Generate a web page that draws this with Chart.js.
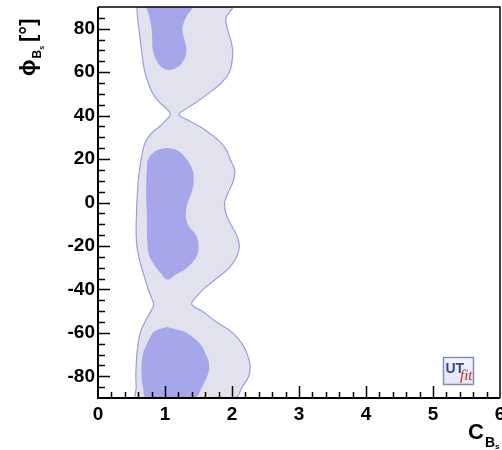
<!DOCTYPE html>
<html>
<head>
<meta charset="utf-8">
<script src="https://cdn.jsdelivr.net/npm/chart.js@4.4.1/dist/chart.umd.min.js"></script>
<style>
  html, body { margin: 0; padding: 0; background: #fff; }
  #wrap { width: 502px; height: 450px; }
</style>
</head>
<body>
<div id="wrap"><canvas id="c" width="502" height="450"></canvas></div>
<script>
// -------------------------------
// DATA
// -------------------------------
const xTicks = [0, 1, 2, 3, 4, 5, 6];
const yTicks = [-80, -60, -40, -20, 0, 20, 40, 60, 80];

// outer (light) region: phi levels and left/right C_Bs edges
const phiOuter = [90, 85, 80, 75, 70, 65, 60, 55, 50, 46, 43, 40.5, 38, 35, 32, 28, 24, 20, 15, 10, 5, 0,
  -5, -10, -15, -20, -25, -30, -35, -40, -44, -47, -50, -55, -60, -65, -70, -75, -80, -85, -90];
const outerLeft = [0.58, 0.59, 0.61, 0.63, 0.65, 0.67, 0.70, 0.75, 0.82, 0.92, 1.03, 1.08, 1.02, 0.92, 0.80, 0.71, 0.67, 0.645, 0.62, 0.60, 0.59, 0.58,
  0.575, 0.57, 0.57, 0.58, 0.61, 0.65, 0.70, 0.75, 0.80, 0.83, 0.79, 0.70, 0.63, 0.60, 0.58, 0.57, 0.565, 0.57, 0.58];
const outerRight = [1.99, 1.91, 1.93, 1.98, 2.01, 2.00, 1.96, 1.84, 1.64, 1.46, 1.31, 1.21, 1.34, 1.52, 1.66, 1.82, 1.92, 1.97, 2.04, 2.02, 1.95, 1.89,
  1.91, 1.98, 2.07, 2.11, 2.07, 1.96, 1.77, 1.57, 1.45, 1.40, 1.55, 1.77, 2.01, 2.15, 2.23, 2.27, 2.25, 2.15, 2.04];

// inner (dark) regions
const phiTop = [90, 85, 80, 75, 70, 65, 62, 61];
const topLeft = [0.72, 0.77, 0.80, 0.81, 0.82, 0.88, 0.96, 1.06];
const topRight = [1.39, 1.31, 1.26, 1.29, 1.32, 1.27, 1.17, 1.06];

const phiMid = [25.2, 24, 20, 15, 10, 5, 0, -5, -10, -15, -20, -25, -30, -33, -35.5];
const midLeft = [1.03, 0.88, 0.75, 0.73, 0.72, 0.72, 0.72, 0.73, 0.73, 0.73, 0.74, 0.77, 0.87, 0.95, 1.03];
const midRight = [1.03, 1.18, 1.32, 1.41, 1.43, 1.40, 1.34, 1.31, 1.34, 1.46, 1.50, 1.47, 1.33, 1.17, 1.03];

const phiBot = [-57.3, -58.5, -60, -65, -70, -75, -80, -85, -90];
const botLeft = [1.03, 0.90, 0.82, 0.73, 0.67, 0.65, 0.65, 0.67, 0.73];
const botRight = [1.03, 1.18, 1.32, 1.52, 1.61, 1.66, 1.63, 1.55, 1.44];

// -------------------------------
// HELPERS
// -------------------------------
// walk down the left edge, back up the right edge
function ring(phi, left, right) {
  const pts = [];
  for (let i = 0; i < phi.length; i++) pts.push({ x: left[i], y: phi[i] });
  for (let i = phi.length - 1; i >= 0; i--) {
    if (right[i] === left[i]) continue;
    pts.push({ x: right[i], y: phi[i] });
  }
  pts.push(pts[0]);
  return pts;
}

const FONT = '"Liberation Sans", Arial, Helvetica, sans-serif';
const innerColor = '#a6a6ea';

function region(data, fillColor, borderColor, order) {
  return {
    data: data,
    showLine: true,
    fill: 'shape',
    backgroundColor: fillColor,
    borderColor: borderColor,
    borderWidth: borderColor ? 1.2 : 0,
    pointRadius: 0,
    tension: 0.4,
    clip: 0,
    order: order,
  };
}

// -------------------------------
// FRAME, TICKS, TITLES, LOGO
// -------------------------------
const decor = {
  id: 'decor',
  afterDatasetsDraw(chart) {
    const ctx = chart.ctx;
    const a = chart.chartArea;
    const xs = chart.scales.x;
    const ys = chart.scales.y;

    ctx.save();
    ctx.strokeStyle = '#000';

    // inside ticks
    ctx.lineWidth = 1.5;
    ctx.beginPath();
    for (let v = -85; v <= 85; v += 5) {
      const py = Math.round(ys.getPixelForValue(v)) + 0.5;
      const len = v % 20 === 0 ? 12 : 7;
      ctx.moveTo(a.left, py);
      ctx.lineTo(a.left + len, py);
    }
    for (let i = 1; i < 30; i++) {
      const v = i / 5;
      const px = Math.round(xs.getPixelForValue(v)) + 0.5;
      const len = i % 5 === 0 ? 12 : 6;
      ctx.moveTo(px, a.bottom);
      ctx.lineTo(px, a.bottom - len);
    }
    ctx.stroke();

    // frame
    ctx.lineWidth = 1.5;
    ctx.beginPath();
    ctx.moveTo(a.left, a.top);
    ctx.lineTo(a.right, a.top);
    ctx.lineTo(a.right, a.bottom);
    ctx.stroke();
    ctx.lineWidth = 2;
    ctx.beginPath();
    ctx.moveTo(a.left, a.top);
    ctx.lineTo(a.left, a.bottom);
    ctx.lineTo(a.right, a.bottom);
    ctx.stroke();

    // y title
    ctx.fillStyle = '#000';
    ctx.textAlign = 'left';
    ctx.textBaseline = 'alphabetic';
    ctx.translate(35, 76);
    ctx.rotate(-Math.PI / 2);
    let x = 0;
    ctx.font = 'bold 22px ' + FONT;
    ctx.fillText('\u03d5', x, 0);
    x += ctx.measureText('\u03d5').width + 1;
    ctx.font = 'bold 12px ' + FONT;
    ctx.fillText('B', x, 6);
    x += ctx.measureText('B').width;
    ctx.font = 'bold 7px ' + FONT;
    ctx.fillText('s', x, 9);
    x += ctx.measureText('s').width + 4;
    ctx.font = 'bold 22px ' + FONT;
    ctx.fillText('[\u00b0]', x, 0);
    ctx.restore();

    // x title
    ctx.save();
    ctx.fillStyle = '#000';
    ctx.font = 'bold 22px ' + FONT;
    ctx.fillText('C', 468, 439);
    ctx.font = 'bold 14px ' + FONT;
    ctx.fillText('B', 485, 447);
    ctx.font = 'bold 8px ' + FONT;
    ctx.fillText('s', 495, 449);

    // UTfit logo
    const g = ctx.createLinearGradient(0, 357, 0, 384);
    g.addColorStop(0, '#f4f4fa');
    g.addColorStop(1, '#e6e6f2');
    ctx.fillStyle = g;
    ctx.fillRect(443.5, 357.5, 30, 27);
    ctx.strokeStyle = '#838bc0';
    ctx.lineWidth = 1.5;
    ctx.strokeRect(443.5, 357.5, 30, 27);
    ctx.font = 'bold 14px ' + FONT;
    ctx.fillStyle = '#34449e';
    ctx.fillText('UT', 445.5, 373);
    ctx.font = 'italic 15px "Liberation Serif", serif';
    ctx.fillStyle = '#d02828';
    ctx.fillText('fit', 460, 380);
    ctx.restore();
  }
};

// -------------------------------
// CHART
// -------------------------------
const tickFont = { family: FONT, size: 19, weight: 'bold' };

new Chart(document.getElementById('c').getContext('2d'), {
  type: 'scatter',
  data: {
    datasets: [
      region(ring(phiTop, topLeft, topRight), innerColor, null, 0),
      region(ring(phiMid, midLeft, midRight), innerColor, null, 0),
      region(ring(phiBot, botLeft, botRight), innerColor, null, 0),
      region(ring(phiOuter, outerLeft, outerRight), '#e2e2ee', '#9c9ce2', 1),
    ],
  },
  options: {
    responsive: false,
    animation: false,
    layout: { padding: { top: 7, right: 2, left: 0, bottom: 0 } },
    plugins: { legend: { display: false }, tooltip: { enabled: false } },
    scales: {
      x: {
        type: 'linear',
        min: 0,
        max: 6,
        grid: { display: false, drawTicks: false },
        border: { display: false },
        ticks: { font: tickFont, color: '#000', padding: 5, maxRotation: 0 },
        afterBuildTicks(scale) { scale.ticks = xTicks.map(v => ({ value: v })); },
        afterFit(scale) {
          scale.height = 52;
          scale.paddingLeft = 0;
          scale.paddingRight = 0;
        },
      },
      y: {
        type: 'linear',
        min: -90,
        max: 90,
        grid: { display: false, drawTicks: false },
        border: { display: false },
        ticks: { font: tickFont, color: '#000', padding: 3 },
        afterBuildTicks(scale) { scale.ticks = yTicks.map(v => ({ value: v })); },
        afterFit(scale) {
          scale.width = 98;
          scale.paddingTop = 0;
          scale.paddingBottom = 0;
        },
      },
    },
  },
  plugins: [decor],
});
</script>
</body>
</html>
